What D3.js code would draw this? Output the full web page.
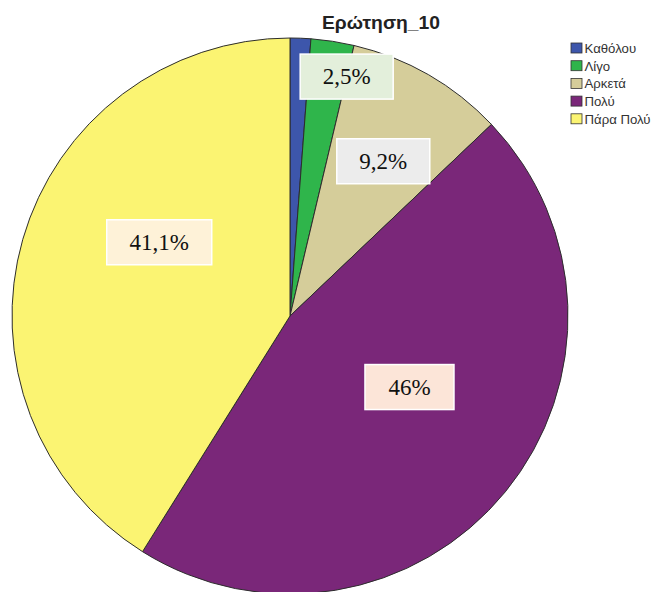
<!DOCTYPE html>
<html><head><meta charset="utf-8">
<script src="https://cdn.jsdelivr.net/npm/d3@7"></script>
<style>body{margin:0;background:#fff}</style>
</head><body>
<svg id="c" width="652" height="592"></svg>
<script>
const title = "Ερώτηση_10";
const categories = ["Καθόλου", "Λίγο", "Αρκετά", "Πολύ", "Πάρα Πολύ"];
const values = [1.2, 2.5, 9.2, 46.0, 41.1];
const valueLabels = [null, "2,5%", "9,2%", "46%", "41,1%"];
const colors = ["#3d56ab", "#2fb54b", "#d5cd9a", "#7a2779", "#fbf472"];
const labelFills = [null, "#e3efdb", "#ececec", "#fce5d8", "#fef2d8"];
// label placement: radius fraction and angle nudge (degrees) relative to slice mid
const labelR = [0, 0.885, 0.65, 0.5, 0.54];
const labelNudge = [0, 4.5, 1.2, -8.5, 13.4];

const svg = d3.select("#c");
const cx = 290, cy = 316, R = 278;
const pie = d3.pie().sort(null).value(d => d)(values);
const arc = d3.arc().innerRadius(0).outerRadius(R);
const g = svg.append("g").attr("transform", `translate(${cx},${cy})`);
g.selectAll("path").data(pie).join("path")
  .attr("d", arc).attr("fill", (d,i) => colors[i])
  .attr("stroke", "#2d2d2d").attr("stroke-width", 1);

pie.forEach((d,i) => {
  if (!valueLabels[i]) return;
  const a = (d.startAngle + d.endAngle)/2 + labelNudge[i]*Math.PI/180;
  const r = R*labelR[i];
  const x = r*Math.sin(a), y = -r*Math.cos(a);
  const t = g.append("text").attr("x", x).attr("y", y)
    .attr("text-anchor","middle").attr("dominant-baseline","central")
    .attr("font-family","Liberation Serif, Times New Roman, serif")
    .attr("font-size", 23).attr("fill","#111").text(valueLabels[i]);
  const w = i === 3 ? 89 : (i === 4 ? 105 : 93), h = 45;
  g.insert("rect", function(){return t.node();})
    .attr("x", x - w/2).attr("y", y - h/2).attr("width", w).attr("height", h)
    .attr("fill", labelFills[i]).attr("stroke", "#fff").attr("stroke-width", 1.5);
});

svg.append("text").attr("x", 381).attr("y", 29).attr("text-anchor","middle")
  .attr("font-family","Liberation Sans, Arial, sans-serif").attr("font-weight","bold")
  .attr("font-size", 17.5).attr("textLength", 118).attr("lengthAdjust","spacingAndGlyphs")
  .attr("fill","#222").text(title);

const lg = svg.append("g").attr("transform","translate(571,43)");
categories.forEach((c,i) => {
  const row = lg.append("g").attr("transform",`translate(0,${i*17.7})`);
  row.append("rect").attr("width",11).attr("height",10).attr("fill",colors[i])
    .attr("stroke","#333").attr("stroke-width",0.8);
  row.append("text").attr("x",13.5).attr("y",10)
    .attr("font-family","Liberation Sans, Arial, sans-serif").attr("font-size",13.2)
    .attr("fill","#333").text(c);
});
</script>
</body></html>
